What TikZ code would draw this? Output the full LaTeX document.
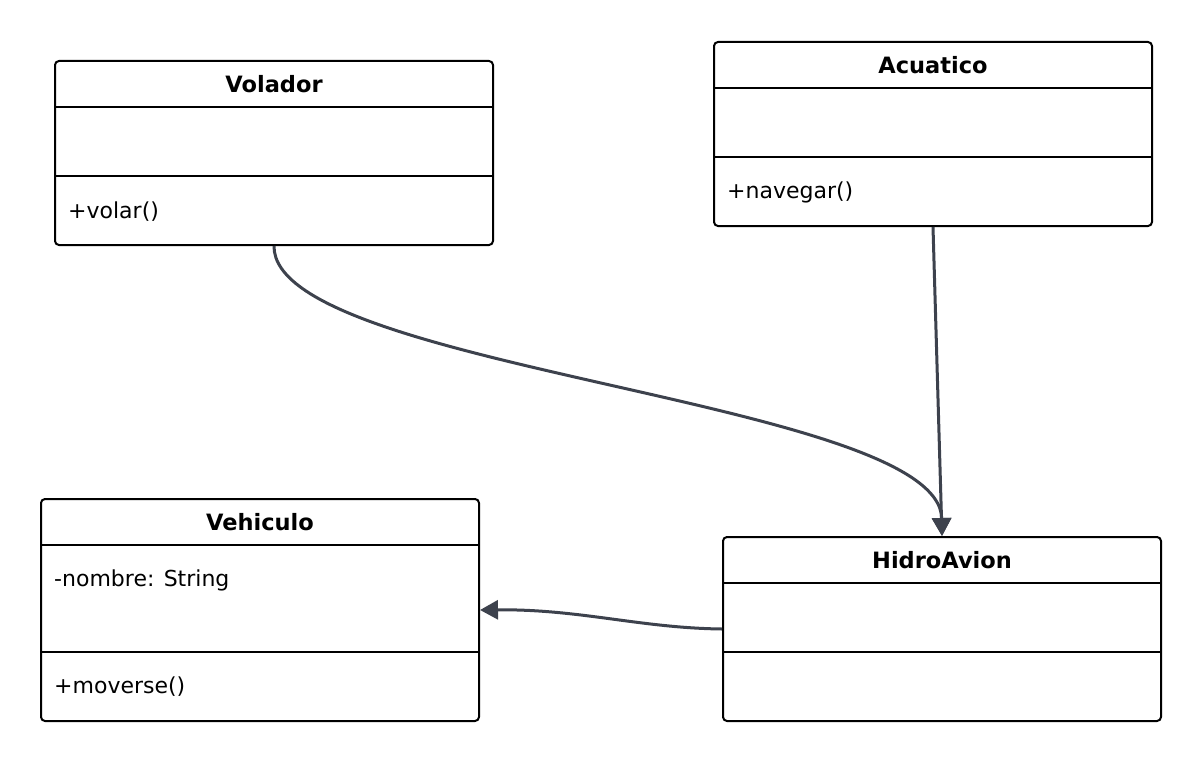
\documentclass[tikz,border=0pt]{standalone}
\usepackage{fontspec}
\setmainfont{DejaVu Sans}
\usetikzlibrary{arrows.meta}
\definecolor{edgegray}{HTML}{3D424D}

\begin{document}
\begin{tikzpicture}[
    x = 1pt, y = -1pt, % pixel grid, y grows downwards
    > = {Triangle[length=18pt,width=19pt]}, % arrow head style
    font = \fontsize{22}{26}\selectfont
    ]

    \tikzset{
    classbox/.style = {draw = black, line width = 2pt, rounded corners = 4pt,
        inner sep = 0pt, minimum width = 438pt, anchor = north west},
    classtitle/.style = {font = \fontsize{22.5}{26}\selectfont\bfseries},
    member/.style = {anchor = west, inner sep = 0pt},
    divider/.style = {line width = 2pt},
    link/.style = {->, draw = edgegray, line width = 3pt}
    }
    \useasboundingbox (0,0) rectangle (1200,760);

    \node[classbox, minimum height = 184pt] (volador) at (54,60) {};
    \node[classbox, minimum height = 184pt] (acuatico) at (713,41) {};
    \node[classbox, minimum height = 222pt] (vehiculo) at (40,498) {};
    \node[classbox, minimum height = 184pt] (hidroavion) at (722,536) {};

    \node[classtitle] (volador-t) at ([shift={(0,24)}]volador.north) {Volador};
    \node[classtitle] (acuatico-t) at ([shift={(0,24)}]acuatico.north) {Acuatico};
    \node[classtitle] (vehiculo-t) at ([shift={(0,24)}]vehiculo.north) {Vehiculo};
    \node[classtitle] (hidroavion-t) at ([shift={(0,24)}]hidroavion.north) {HidroAvion};

    \foreach \c/\a/\b in {volador/47/116, acuatico/47/116, vehiculo/47/154, hidroavion/47/116}{
        \draw[divider] ([shift={(0,\a)}]\c.north west) -- ([shift={(0,\a)}]\c.north east);
        \draw[divider] ([shift={(0,\b)}]\c.north west) -- ([shift={(0,\b)}]\c.north east);
    }

    \node[member] (volador-m) at ([shift={(14,152)}]volador.north west) {+volar()};
    \node[member] (acuatico-m) at ([shift={(14,151)}]acuatico.north west) {+navegar()};
    \node[member] (vehiculo-a) at ([shift={(14,82)}]vehiculo.north west) {-nombre: String};
    \node[member] (vehiculo-m) at ([shift={(14,189)}]vehiculo.north west) {+moverse()};

    \draw[link] (volador.south) .. controls (273,370) and (940,400) .. (hidroavion.north);
    \draw[link] (acuatico.south) -- (hidroavion.north);
    \draw[link] (hidroavion.west) .. controls (640,628) and (580,609) .. (vehiculo.east);
\end{tikzpicture}
\end{document}
